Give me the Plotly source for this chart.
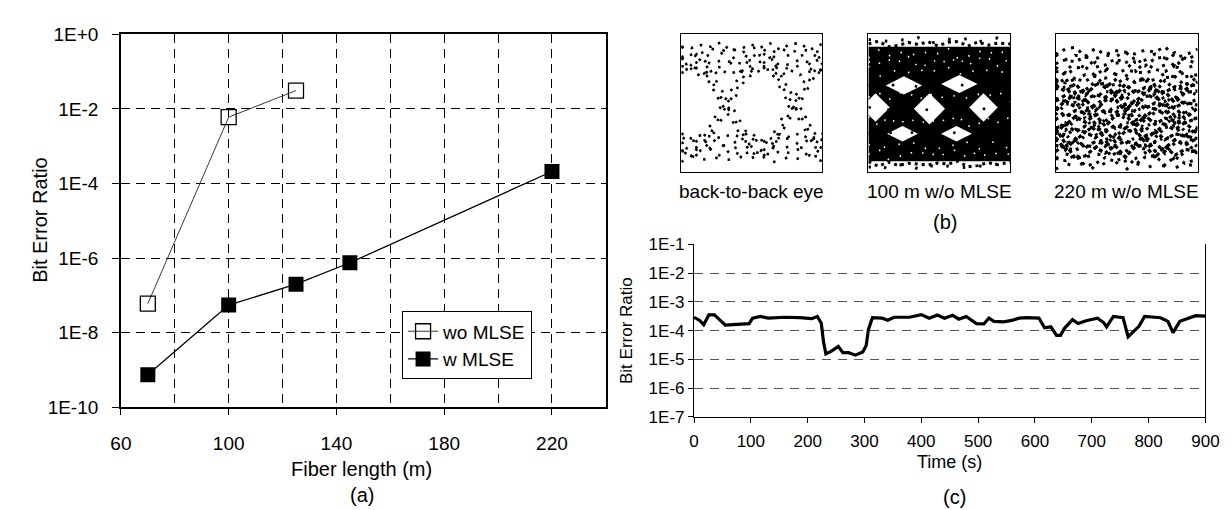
import plotly.graph_objects as go

# ---------------- data: panel (a) ----------------
fiber_len_wo = [70, 100, 125]
ber_wo = [6.0e-8, 6.0e-3, 3.1e-2]
fiber_len_w = [70, 100, 125, 145, 220]
ber_w = [7.4e-10, 5.5e-8, 2.0e-7, 7.5e-7, 2.1e-4]
a_ytick_vals = [1e-10, 1e-8, 1e-6, 1e-4, 1e-2, 1e0]
a_ytick_text = ["1E-10", "1E-8", "1E-6", "1E-4", "1E-2", "1E+0"]

# ---------------- data: panel (c) ----------------
time_s = [0, 10, 17, 26, 36, 45, 55, 76, 97, 103, 117, 131, 159, 186, 207, 217,
          224, 228, 232, 241, 254, 262, 272, 284, 297, 303, 307, 314, 331, 341,
          352, 379, 400, 414, 428, 441, 455, 466, 479, 497, 510, 519, 528, 545,
          559, 572, 586, 607, 617, 628, 638, 645, 652, 666, 676, 690, 710, 721,
          726, 738, 755, 764, 772, 783, 793, 821, 834, 843, 855, 869, 883, 900]
ber_t = [2.9e-4, 2.25e-4, 1.6e-4, 3.5e-4, 3.5e-4, 2.4e-4, 1.55e-4, 1.65e-4,
         1.75e-4, 2.7e-4, 3.1e-4, 2.7e-4, 2.9e-4, 2.8e-4, 2.6e-4, 3.1e-4,
         1.8e-4, 3.9e-5, 1.55e-5, 1.9e-5, 2.8e-5, 1.7e-5, 1.7e-5, 1.4e-5,
         1.8e-5, 3.0e-5, 1.1e-4, 2.8e-4, 2.7e-4, 2.3e-4, 2.9e-4, 2.9e-4,
         3.6e-4, 2.7e-4, 3.5e-4, 2.7e-4, 3.4e-4, 2.5e-4, 3.1e-4, 1.75e-4,
         1.7e-4, 2.7e-4, 2.1e-4, 2.0e-4, 2.25e-4, 2.7e-4, 2.8e-4, 2.7e-4,
         1.25e-4, 1.35e-4, 6.8e-5, 6.8e-5, 1.2e-4, 2.4e-4, 1.75e-4, 2.2e-4,
         2.7e-4, 1.9e-4, 1.35e-4, 3.1e-4, 2.8e-4, 6.1e-5, 9.0e-5, 1.4e-4,
         3.1e-4, 2.8e-4, 2.1e-4, 8.5e-5, 2.1e-4, 2.6e-4, 3.3e-4, 3.2e-4]
c_ytick_vals = [1e-7, 1e-6, 1e-5, 1e-4, 1e-3, 1e-2, 1e-1]
c_ytick_text = ["1E-7", "1E-6", "1E-5", "1E-4", "1E-3", "1E-2", "1E-1"]

# ---------------- data: eye diagrams (b), normalised box coords ----------------
eye_labels = ["back-to-back eye", "100 m w/o MLSE", "220 m w/o MLSE"]
eye_x = [0.0, 0.07, 0.14, 0.21, 0.28, 0.35, 0.42, 0.49, 0.56, 0.63, 0.70,
         0.77, 0.84, 0.91, 1.0]
eye_wiggle = [0.0, 0.02, -0.012, 0.026, -0.018, 0.008, -0.024, 0.016, 0.0,
              -0.014, 0.022, -0.008, 0.014, -0.02, 0.01, -0.005, 0.018]
eye1_high = [0.72, 0.76, 0.80, 0.84, 0.88, 0.91]
eye1_low = [0.10, 0.14, 0.18, 0.22, 0.26]
eye1_cross = [-0.16, 0.32, 0.80, 1.28]
eye1_edge_dx = [-0.22, -0.16, -0.11, -0.055, 0.0, 0.055, 0.11, 0.16, 0.22]
eye1_edge_frac = [0.0, 0.06, 0.2, 0.36, 0.5, 0.64, 0.8, 0.94, 1.0]
eye1_edge_lo = [0.16, 0.22, 0.12]
eye1_edge_hi = [0.80, 0.86, 0.76]
eye2_band = [0.08, 0.91]
eye2_hole_x = [0.25, 0.64, 0.05, 0.43, 0.81, 0.24, 0.62]
eye2_hole_y = [0.63, 0.64, 0.47, 0.46, 0.47, 0.28, 0.28]
eye2_edge_rows = [0.93, 0.955, 0.06, 0.04]
eye2_speck_rows = [0.13, 0.19, 0.37, 0.55, 0.73, 0.80, 0.86]
eye2_stray_rows = [0.46, 0.63, 0.29]
eye3_dense = [0.15, 0.178, 0.206, 0.234, 0.262, 0.29, 0.318, 0.346, 0.374,
              0.402, 0.43, 0.458, 0.486, 0.514, 0.542, 0.57, 0.598, 0.626]
eye3_sparse = [0.66, 0.695, 0.73, 0.765, 0.80, 0.835, 0.87, 0.045, 0.085, 0.12]

FONT = "Liberation Sans, Arial, sans-serif"
W, H = 1232, 510

fig = go.Figure()

# ---- panel (a) traces ----
fig.add_trace(go.Scatter(
    x=fiber_len_wo, y=ber_wo, name="wo MLSE", mode="lines+markers",
    line=dict(color="#3a3a3a", width=1),
    marker=dict(symbol="square-open", size=15, color="black", line=dict(width=1.3, color="black")),
    xaxis="x", yaxis="y"))
fig.add_trace(go.Scatter(
    x=fiber_len_w, y=ber_w, name="w MLSE", mode="lines+markers",
    line=dict(color="black", width=1.3),
    marker=dict(symbol="square", size=15, color="black"),
    xaxis="x", yaxis="y"))

# ---- panel (c) trace ----
fig.add_trace(go.Scatter(
    x=time_s, y=ber_t, mode="lines", showlegend=False,
    line=dict(color="black", width=3.2), xaxis="x2", yaxis="y2"))


def wig_row(level, k, amp=1.0):
    n = len(eye_wiggle)
    return [level + amp * eye_wiggle[(i * 3 + k * 5) % n] for i in range(len(eye_x))]


def dots(xs, ys, ax, dash, width=2.6, color="black"):
    fig.add_trace(go.Scatter(
        x=xs, y=ys, mode="lines", showlegend=False, hoverinfo="skip",
        line=dict(color=color, width=width, dash=dash),
        xaxis="x" + ax, yaxis="y" + ax))


sparse_dashes = ["2.5px,7px", "2.5px,10px", "2.5px,8px", "2.5px,12px", "2.5px,9px"]

# ---- eye 1 ----
for k, lv in enumerate(eye1_high + eye1_low):
    dots(eye_x, wig_row(lv, k, 1.2), "3", sparse_dashes[k % len(sparse_dashes)])
for ci, cx in enumerate(eye1_cross):
    for pi, (lo, hi) in enumerate(zip(eye1_edge_lo, eye1_edge_hi)):
        xs = [cx + d for d in eye1_edge_dx]
        rise = [lo + f * (hi - lo) for f in eye1_edge_frac]
        fall = [hi - f * (hi - lo) for f in eye1_edge_frac]
        dots(xs, rise, "3", sparse_dashes[(ci + pi) % 5])
        dots(xs, fall, "3", sparse_dashes[(ci + pi + 2) % 5])

# ---- eye 2 ----
fig.add_trace(go.Scatter(
    x=[0, 1, 1, 0, 0], y=[eye2_band[0], eye2_band[0], eye2_band[1], eye2_band[1], eye2_band[0]],
    mode="lines", fill="toself", fillcolor="black", line=dict(color="black", width=0),
    showlegend=False, hoverinfo="skip", xaxis="x4", yaxis="y4"))
for k, lv in enumerate(eye2_edge_rows):
    dots(eye_x, wig_row(lv, k, 0.8), "4", ["3px,4px", "2.5px,14px", "3px,4px", "2.5px,14px"][k], width=3)
fig.add_trace(go.Scatter(
    x=eye2_hole_x, y=eye2_hole_y, mode="markers", showlegend=False, hoverinfo="skip",
    marker=dict(symbol=["diamond-wide", "diamond-wide", "diamond", "diamond", "diamond", "diamond-wide", "diamond-wide"],
                size=[26, 26, 22, 24, 22, 22, 22], color="white", opacity=1, line=dict(width=0)),
    xaxis="x4", yaxis="y4"))
for k, lv in enumerate(eye2_speck_rows):
    dots(eye_x, wig_row(lv, k, 1.5), "4", ["1.5px,11px", "1.5px,14px", "1.5px,9px"][k % 3], width=1.6, color="white")
for k, lv in enumerate(eye2_stray_rows):
    dots(eye_x, wig_row(lv, k + 4, 0.5), "4", ["2.5px,17px", "2.5px,21px", "2.5px,19px"][k], width=2.6)

# ---- eye 3 ----
for k, lv in enumerate(eye3_dense):
    dots(eye_x, wig_row(lv, k, 2.2), "5", ["4px,2.5px", "3px,4px", "4px,3.5px", "2.5px,5px"][k % 4], width=3.2)
for k, lv in enumerate(eye3_sparse):
    dots(eye_x, wig_row(lv, k + 5, 1.6), "5", ["3px,5px", "3px,8px", "3px,6px", "3px,11px"][k % 4], width=3)

# ---------------- layout ----------------
def px_x(a, b):
    return [a / W, b / W]


def px_y(top, bottom):
    return [1 - bottom / H, 1 - top / H]


grid_a = dict(showgrid=True, gridcolor="black", gridwidth=1, griddash="9px,6px")
layout = dict(
    width=W, height=H, margin=dict(l=0, r=0, t=0, b=0), autosize=False,
    paper_bgcolor="white", plot_bgcolor="white",
    font=dict(family=FONT, color="black", size=19),
    showlegend=True,
    legend=dict(x=391 / W, y=1 - 306 / H, xanchor="left", yanchor="top",
                bordercolor="black", borderwidth=1, bgcolor="white",
                font=dict(size=19, family=FONT), tracegroupgap=0),
    xaxis=dict(domain=px_x(104, 599), range=[60, 240], tick0=60, dtick=40,
               showline=True, linecolor="black", linewidth=1.5, mirror=True,
               ticks="outside", ticklen=6, tickcolor="black", zeroline=False,
               ticklabelstandoff=12,
               tickfont=dict(size=19), **grid_a,
               minor=dict(dtick=20, tick0=60, showgrid=True, gridcolor="black",
                          griddash="9px,6px", gridwidth=1, ticks="")),
    yaxis=dict(domain=px_y(17, 406), type="log", range=[-10, 0],
               tickvals=a_ytick_vals, ticktext=a_ytick_text,
               showline=True, linecolor="black", linewidth=1.5, mirror=True,
               ticks="outside", ticklen=7, tickcolor="black", zeroline=False,
               ticklabelstandoff=10,
               tickfont=dict(size=19), **grid_a),
    xaxis2=dict(domain=px_x(689, 1211), range=[0, 900], dtick=100, tick0=0,
                showline=True, linecolor="black", linewidth=1.2, mirror=False,
                ticks="outside", ticklen=5, tickcolor="black", zeroline=False,
                ticklabelstandoff=4,
                showgrid=False, tickfont=dict(size=17), anchor="y2"),
    yaxis2=dict(domain=px_y(236, 416), type="log", range=[-7, -1],
                tickvals=c_ytick_vals, ticktext=c_ytick_text,
                showline=True, linecolor="black", linewidth=1.2, mirror=True,
                ticks="outside", ticklen=5, tickcolor="black", zeroline=False,
                showgrid=True, gridcolor="#555555", gridwidth=1.2, griddash="9px,7px",
                tickfont=dict(size=17), anchor="x2"),
)
eye_dom = [(676, 820), (867, 1012), (1058, 1203)]
for i, (a, b) in enumerate(eye_dom):
    n = str(i + 3)
    ax_common = dict(range=[0, 1], showline=True, linecolor="black", linewidth=1.3,
                     mirror=True, showgrid=False, zeroline=False, showticklabels=False,
                     ticks="", fixedrange=True)
    layout["xaxis" + n] = dict(domain=px_x(a, b), anchor="y" + n, **ax_common)
    layout["yaxis" + n] = dict(domain=px_y(17, 161), anchor="x" + n, **ax_common)

fig.update_layout(**layout)

ann = []
def add_text(text, x, y, size, angle=0):
    ann.append(dict(text=text, x=x / W, y=1 - y / H, xref="paper", yref="paper",
                    xanchor="center", yanchor="middle", showarrow=False,
                    textangle=angle, font=dict(size=size, family=FONT, color="black")))

add_text("Bit Error Ratio", 22, 211, 20, -90)
add_text("Fiber length (m)", 350, 470, 20)
add_text("(a)", 350, 497, 20)
for (a, b), lab in zip(eye_dom, eye_labels):
    add_text(lab, (a + b) / 2, 181, 19)
add_text("(b)", 945, 213, 20)
add_text("Bit Error Ratio", 620, 326, 17, -90)
add_text("Time (s)", 950, 463, 18)
add_text("(c)", 955, 500, 20)
fig.update_layout(annotations=ann)

fig.write_html("out.html")
